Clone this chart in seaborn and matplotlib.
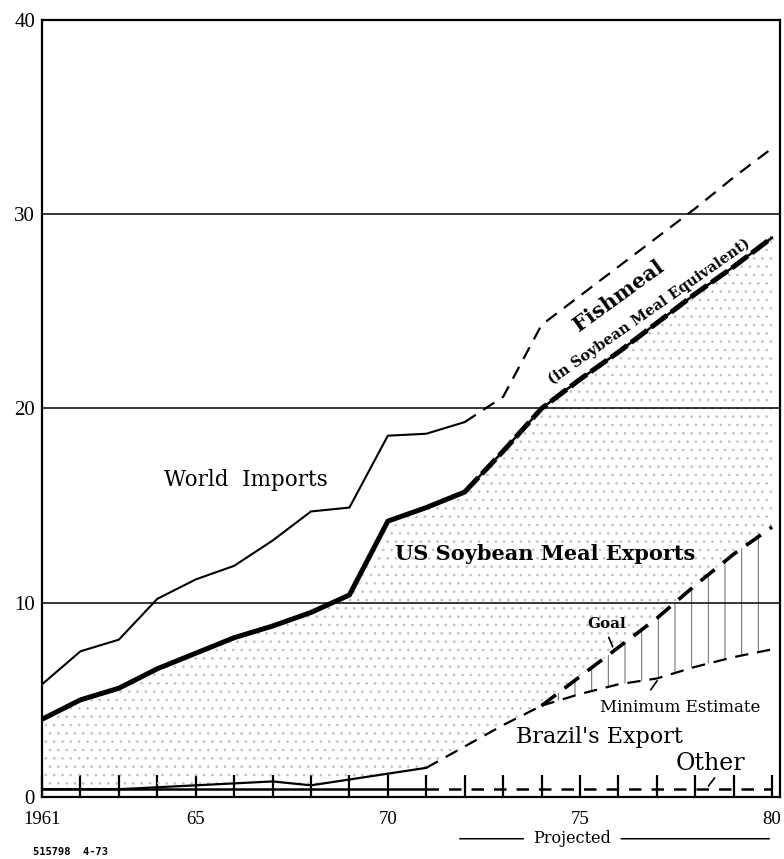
"""
World soybean meal / fishmeal trade, 1961-80 (with projections)
"""

import matplotlib
matplotlib.use("Agg")
import matplotlib.pyplot as plt
import seaborn as sns

# --- data (million metric tons) ---
years = [1961, 1962, 1963, 1964, 1965, 1966, 1967, 1968, 1969, 1970,
         1971, 1972, 1973, 1974, 1975, 1976, 1977, 1978, 1979, 1980]

# world imports, actual
wi_years = years[:12]
world_imports = [5.8, 7.5, 8.1, 10.2, 11.2, 11.9, 13.2, 14.7, 14.9, 18.6, 18.7, 19.3]

# world imports incl. fishmeal (soybean meal equivalent), projected
fish_years = years[11:]
fishmeal = [19.3, 20.6, 24.3, 25.8, 27.3, 28.8, 30.3, 31.9, 33.4]

# US soybean meal exports
us_exports = [4.0, 5.0, 5.6, 6.6, 7.4, 8.2, 8.8, 9.5, 10.4, 14.2,
              14.9, 15.7, 17.8, 20.0, 21.5, 22.9, 24.4, 25.9, 27.3, 28.8]

# Brazil's export, up to 1974
br_years = years[:14]
brazil = [0.4, 0.4, 0.4, 0.5, 0.6, 0.7, 0.8, 0.6, 0.9, 1.2, 1.5, 2.6, 3.7, 4.7]

# Brazil projections
proj_years = years[13:]
goal = [4.7, 6.2, 7.7, 9.2, 10.9, 12.5, 13.9]
min_estimate = [4.7, 5.3, 5.8, 6.1, 6.7, 7.2, 7.6]

# other exporters
other = [0.4, 0.4, 0.4, 0.4, 0.4, 0.4, 0.4, 0.4, 0.4, 0.4,
         0.4, 0.4, 0.4, 0.4, 0.4, 0.4, 0.4, 0.4, 0.4, 0.4]

x_labels = ["1961", "", "", "", "65", "", "", "", "", "70",
            "", "", "", "", "75", "", "", "", "", "80"]
y_ticks = [0, 10, 20, 30, 40]

# --- style ---
sns.set_style("white")
plt.rcParams["font.family"] = ["DejaVu Serif"]
plt.rcParams["text.color"] = "black"
plt.rcParams["xtick.color"] = "black"
plt.rcParams["ytick.color"] = "black"
plt.rcParams["hatch.linewidth"] = 0.7

fig = plt.figure(figsize=(7.84, 8.59), dpi=100)
ax = fig.add_axes([0.0536, 0.0722, 0.941, 0.9045])

# stippled area under the US exports line
lower = brazil + goal[1:]
ax.fill_between(years, lower, us_exports, facecolor="none",
                edgecolor="#c2c2c2", hatch="..", linewidth=0)
# hatched band between minimum estimate and goal
ax.fill_between(proj_years, min_estimate, goal, facecolor="none",
                edgecolor="#666666", hatch="|", linewidth=0)

# grid lines
for yv in y_ticks[1:-1]:
    ax.axhline(yv, color="black", lw=1.1, zorder=1)

# lines
sns.lineplot(x=wi_years, y=world_imports, ax=ax, color="black", lw=1.5)
sns.lineplot(x=fish_years, y=fishmeal, ax=ax, color="black", lw=1.6,
             linestyle=(0, (6, 4)))
sns.lineplot(x=years[:12], y=us_exports[:12], ax=ax, color="black", lw=3.6)
sns.lineplot(x=years[11:], y=us_exports[11:], ax=ax, color="black", lw=1.8)
sns.lineplot(x=years[11:], y=us_exports[11:], ax=ax, color="black", lw=3.6,
             linestyle=(0, (4, 1)))
sns.lineplot(x=br_years[:11], y=brazil[:11], ax=ax, color="black", lw=1.6)
sns.lineplot(x=br_years[10:], y=brazil[10:], ax=ax, color="black", lw=1.6,
             linestyle=(0, (6, 4)))
sns.lineplot(x=proj_years, y=goal, ax=ax, color="black", lw=2.6,
             linestyle=(0, (5, 3)))
sns.lineplot(x=proj_years, y=min_estimate, ax=ax, color="black", lw=1.6,
             linestyle=(0, (6, 4)))
sns.lineplot(x=years[:11], y=other[:11], ax=ax, color="black", lw=1.8)
sns.lineplot(x=years[10:], y=other[10:], ax=ax, color="black", lw=1.8,
             linestyle=(0, (5, 4)))

# axes
ax.set_xlim(1961, 1980.2)
ax.set_ylim(0, 40)
ax.set_xticks(years)
ax.set_xticklabels(x_labels, fontsize=13.5, family="Liberation Serif")
ax.set_yticks(y_ticks)
ax.set_yticklabels([str(v) for v in y_ticks], fontsize=15,
                   family="Liberation Serif")
ax.tick_params(axis="x", bottom=True, direction="in", length=16, width=1.6,
               pad=10)
ax.tick_params(axis="y", left=False, length=0, pad=5)
ax.set_xlabel("")
ax.set_ylabel("")
for side in ["left", "right", "top", "bottom"]:
    ax.spines[side].set_visible(True)
    ax.spines[side].set_color("black")
    ax.spines[side].set_linewidth(1.6)

# annotations
ax.text(1966.3, 16.3, "World  Imports", fontsize=15.5, ha="center", va="center")
ax.text(1974.1, 12.5, "US Soybean Meal Exports", fontsize=15,
        fontweight="bold", ha="center", va="center")
ax.text(1976.0, 25.8, "Fishmeal", fontsize=15, fontweight="bold",
        rotation=36, rotation_mode="anchor", ha="center", va="center")
ax.text(1976.8, 25.0, "(in Soybean Meal Equivalent)", fontsize=10.5,
        fontweight="bold", rotation=35, rotation_mode="anchor",
        ha="center", va="center")
ax.text(1975.7, 8.9, "Goal", fontsize=11, fontweight="bold",
        ha="center", va="center")
ax.annotate("", xy=(1975.88, 7.6), xytext=(1975.72, 8.35),
            arrowprops=dict(arrowstyle="-", color="black", lw=1.2))
ax.text(1977.6, 4.6, "Minimum Estimate", fontsize=12,
        ha="center", va="center")
ax.annotate("", xy=(1977.05, 6.1), xytext=(1976.8, 5.4),
            arrowprops=dict(arrowstyle="-", color="black", lw=1.2))
ax.text(1975.5, 3.1, "Brazil's Export", fontsize=16, ha="center", va="center")
ax.text(1978.4, 1.7, "Other", fontsize=17, ha="center", va="center")
ax.annotate("", xy=(1978.55, 1.1), xytext=(1978.3, 0.45),
            arrowprops=dict(arrowstyle="-", color="black", lw=1.2))

# "Projected" bracket below the axis
ax.text(1974.8, -2.15, "Projected", fontsize=11.5, ha="center", va="center",
        clip_on=False)
ax.annotate("", xy=(1973.6, -2.15), xytext=(1971.8, -2.15),
            annotation_clip=False,
            arrowprops=dict(arrowstyle="-", color="black", lw=1.1))
ax.annotate("", xy=(1980.0, -2.15), xytext=(1976.0, -2.15),
            annotation_clip=False,
            arrowprops=dict(arrowstyle="-", color="black", lw=1.1))

fig.text(0.042, 0.008, "515798  4-73", fontsize=7.5, fontweight="bold",
         family="DejaVu Sans Mono", va="center")

fig.savefig("out.png", dpi=100)
